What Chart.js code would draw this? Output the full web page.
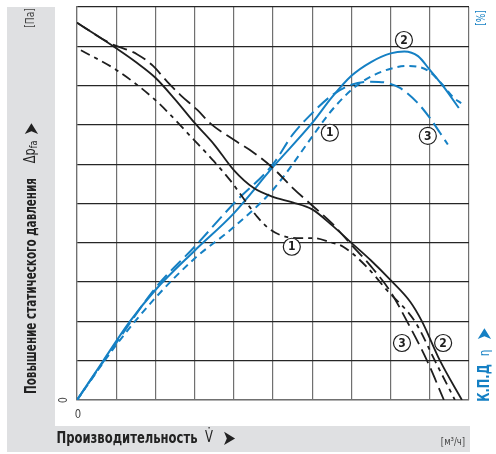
<!DOCTYPE html>
<html>
<head>
<meta charset="utf-8">
<script src="https://cdn.jsdelivr.net/npm/chart.js@4.4.1/dist/chart.umd.min.js"></script>
<style>
    html, body { margin: 0; padding: 0; background: #ffffff; }
    #wrap { position: relative; width: 496px; height: 454px; overflow: hidden; }
    .panel { position: absolute; background: #dfe0e2; }
    canvas { position: absolute; left: 0; top: 0; }
    .txt {
        position: absolute;
        white-space: nowrap;
        font-family: 'DejaVu Sans Condensed', 'DejaVu Sans', sans-serif;
        color: #222;
        line-height: 1;
    }
    /* текст поворачивается и сжимается вдоль строки, как узкий шрифт оригинала */
    .rot { transform: translate(-50%, -50%) rotate(-90deg) scaleX(0.84); }
    .rot.narrow { transform: translate(-50%, -50%) rotate(-90deg) scaleX(0.77); }
    .ctr { transform: translate(-50%, -50%) scaleX(0.86); }
    .b { font-weight: bold; }
    .blue { color: #1580c4; }
    .arr { font-size: 21px; }
    sub { font-size: 70%; vertical-align: -2px; }
</style>
</head>
<body>
<div id="wrap">
    <div class="panel" style="left:7px; top:7px; width:48px; height:445px;"></div>
    <div class="panel" style="left:7px; top:426px; width:463px; height:26px;"></div>
    <canvas id="fanChart" width="496" height="454"></canvas>

    <div class="txt rot" style="left:30px; top:18px; font-size:12px; color:#444;">[Па]</div>
    <div class="txt rot narrow b" style="left:31px; top:286px; font-size:15px;">Повышение статического давления</div>
    <div class="txt rot" style="left:31px; top:152px; font-size:15px;">Δp<sub>fa</sub></div>
    <div class="txt rot arr" style="left:31px; top:129px;">➤</div>
    <div class="txt rot" style="left:63px; top:400px; font-size:12px; color:#444;">0</div>
    <div class="txt ctr" style="left:78px; top:413px; font-size:13px; color:#444;">0</div>
    <div class="txt ctr b" style="left:127px; top:438px; font-size:15px;">Производительность</div>
    <div class="txt ctr" style="left:209px; top:437px; font-size:15px;">V̇</div>
    <div class="txt ctr arr" style="left:229px; top:438px;">➤</div>
    <div class="txt ctr" style="left:453px; top:441px; font-size:11px; color:#444;">[м³/ч]</div>
    <div class="txt rot blue" style="left:481px; top:18px; font-size:12px;">[%]</div>
    <div class="txt rot b blue" style="left:484px; top:383px; font-size:15px;">К.П.Д</div>
    <div class="txt rot blue" style="left:484px; top:353px; font-size:14px;">η</div>
    <div class="txt rot blue arr" style="left:484px; top:334px;">➤</div>
</div>
<script>
// Кривые давления (Па, в делениях сетки)
const pressure1X = [0.1, 1, 2, 3, 3.47, 3.9, 4.34, 4.6, 4.85, 5.18, 5.6, 6.02, 6.45, 6.79, 7.4, 7.9, 8.62, 9.13, 9.64];
const pressure1Y = [8.9, 8.4, 7.63, 6.6, 6.1, 5.6, 5.0, 4.66, 4.4, 4.2, 4.12, 4.12, 4.02, 3.9, 3.38, 2.8, 2.0, 1.0, 0];

const pressure2X = [0, 0.5, 1, 1.5, 2, 2.5, 3, 3.5, 4, 4.5, 5, 5.5, 6, 6.5, 7, 7.5, 8, 8.5, 8.8, 9.26, 9.82];
const pressure2Y = [9.6, 9.28, 8.95, 8.6, 8.2, 7.65, 7.05, 6.5, 5.85, 5.4, 5.17, 5.03, 4.85, 4.45, 4.0, 3.55, 3.05, 2.5, 2.0, 1.0, 0];

const pressure3X = [0, 0.84, 1.53, 1.94, 2.3, 2.64, 3.07, 3.4, 4, 4.5, 5, 5.5, 6, 6.5, 7, 7.5, 8, 8.42, 8.93, 9.36];
const pressure3Y = [9.6, 9.08, 8.8, 8.5, 8.1, 7.76, 7.38, 7.04, 6.62, 6.3, 5.9, 5.4, 4.95, 4.5, 3.95, 3.4, 2.75, 2.0, 1.0, 0];

// Кривые КПД (%)
const eff1X = [0, 1, 2, 3, 4, 5, 6, 6.4, 6.8, 7.2, 7.6, 8.0, 8.4, 8.7, 9.0, 9.3, 9.6, 9.8];
const eff1Y = [0, 1.4, 2.6, 3.6, 4.4, 5.35, 6.7, 7.25, 7.7, 8.05, 8.28, 8.43, 8.5, 8.48, 8.35, 8.05, 7.7, 7.55];

const eff2X = [0, 0.67, 1.35, 2, 3, 4, 5, 6, 6.5, 7, 7.5, 8, 8.35, 8.7, 9.0, 9.36, 9.74];
const eff2Y = [0, 1.0, 2.0, 2.8, 3.8, 4.75, 5.93, 7.05, 7.7, 8.25, 8.6, 8.82, 8.87, 8.75, 8.4, 7.96, 7.43];

const eff3X = [0, 1, 2, 3, 4, 5, 5.5, 6, 6.5, 7, 7.5, 7.9, 8.24, 8.67, 9.0, 9.26, 9.46];
const eff3Y = [0, 1.45, 2.85, 3.9, 5.0, 6.0, 6.75, 7.3, 7.75, 8.02, 8.1, 8.07, 7.94, 7.58, 7.18, 6.8, 6.5];

// Номера кривых в кружках
const markText = ['1', '1', '2', '2', '3', '3'];
const markX = [6.45, 5.48, 8.34, 9.34, 8.95, 8.29];
const markY = [6.8, 3.9, 9.16, 1.45, 6.72, 1.45];

const BLACK = '#1e1e1e';
const BLUE = '#1580c4';

function toPoints(xs, ys) {
    return xs.map((x, i) => ({ x: x, y: ys[i] }));
}

function curve(xs, ys, color, dash, width) {
    return {
        data: toPoints(xs, ys),
        borderColor: color,
        borderWidth: width,
        borderDash: dash,
        pointRadius: 0,
        fill: false,
        cubicInterpolationMode: 'monotone'
    };
}

const circledLabels = {
    id: 'circledLabels',
    afterDatasetsDraw(chart) {
        const ctx = chart.ctx;
        const sx = chart.scales.x;
        const sy = chart.scales.y;
        ctx.save();
        for (let i = 0; i < markText.length; i++) {
            const px = sx.getPixelForValue(markX[i]);
            const py = sy.getPixelForValue(markY[i]);
            ctx.beginPath();
            ctx.arc(px, py, 8.5, 0, Math.PI * 2);
            ctx.fillStyle = '#ffffff';
            ctx.fill();
            ctx.lineWidth = 1.2;
            ctx.strokeStyle = BLACK;
            ctx.stroke();
            ctx.fillStyle = BLACK;
            ctx.font = 'bold 12px "DejaVu Sans Condensed", sans-serif';
            ctx.textAlign = 'center';
            ctx.textBaseline = 'middle';
            ctx.fillText(markText[i], px, py + 0.5);
        }
        ctx.restore();
    }
};

const ctx = document.getElementById('fanChart').getContext('2d');
new Chart(ctx, {
    type: 'line',
    data: {
        datasets: [
            curve(pressure2X, pressure2Y, BLACK, [], 1.8),
            curve(pressure3X, pressure3Y, BLACK, [15, 6], 1.8),
            curve(pressure1X, pressure1Y, BLACK, [10, 5, 4, 5], 1.8),
            curve(eff2X, eff2Y, BLUE, [], 2),
            curve(eff3X, eff3Y, BLUE, [14, 6], 2),
            curve(eff1X, eff1Y, BLUE, [7, 5], 2)
        ]
    },
    options: {
        responsive: false,
        animation: false,
        layout: {
            padding: { left: 77, top: 7, right: 27, bottom: 54 }
        },
        scales: {
            x: {
                type: 'linear',
                min: 0,
                max: 10,
                ticks: { display: false, stepSize: 1 },
                grid: { color: '#707070', lineWidth: 1.2, drawTicks: false },
                border: { color: '#707070', width: 1.2 },
                afterFit(scale) { scale.height = 0; }
            },
            y: {
                type: 'linear',
                min: 0,
                max: 10,
                ticks: { display: false, stepSize: 1 },
                grid: { color: '#262626', lineWidth: 1.2, drawTicks: false },
                border: { color: '#707070', width: 1.2 },
                afterFit(scale) { scale.width = 0; }
            }
        },
        plugins: {
            legend: { display: false },
            tooltip: { enabled: false }
        }
    },
    plugins: [circledLabels]
});
</script>
</body>
</html>
